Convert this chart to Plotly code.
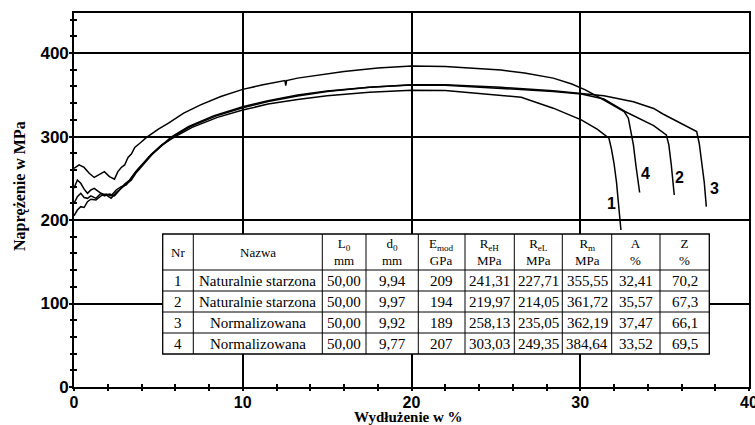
import plotly.graph_objects as go

# --- table data -------------------------------------------------------------
nr = [1, 2, 3, 4]
nazwa = ["Naturalnie starzona", "Naturalnie starzona", "Normalizowana", "Normalizowana"]
L0_mm = [50.00, 50.00, 50.00, 50.00]
d0_mm = [9.94, 9.97, 9.92, 9.77]
E_mod_gpa = [209, 194, 189, 207]
ReH_mpa = [241.31, 219.97, 258.13, 303.03]
ReL_mpa = [227.71, 214.05, 235.05, 249.35]
Rm_mpa = [355.55, 361.72, 362.19, 384.64]
A_pct = [32.41, 35.57, 37.47, 33.52]
Z_pct = [70.2, 67.3, 66.1, 69.5]

header = ["Nr", "Nazwa", "L<sub>0</sub><br>mm", "d<sub>0</sub><br>mm",
          "E<sub>mod</sub><br>GPa", "R<sub>eH</sub><br>MPa", "R<sub>eL</sub><br>MPa",
          "R<sub>m</sub><br>MPa", "A<br>%", "Z<br>%"]

# --- stress-strain curves (elongation %, stress MPa) ------------------------
x1 = [0, 0.2, 0.4, 0.6, 0.8, 1.0, 1.3, 1.6, 1.9, 2.2, 2.5, 2.8, 3.1, 3.4, 3.7, 4.1,
      4.6, 5.2, 6.0, 7.0, 8.5, 10, 11.5, 13.25, 15, 17.5, 20, 22, 24, 25.3, 26.5,
      28.4, 30.06, 31.0, 31.7, 31.85, 32.0, 32.15, 32.3, 32.41]
y1 = [205, 212, 216, 215, 222, 225, 224, 229, 231, 229, 236, 240, 242, 250, 259, 268,
      279, 290, 300, 311, 323, 331.7, 339, 344.5, 349, 353, 355.55, 355.3, 352, 349.7, 347,
      334, 320, 309, 298, 285, 268, 245, 215, 188]

x2 = [0, 0.2, 0.4, 0.6, 0.8, 1.0, 1.2, 1.5, 1.8, 2.1, 2.4, 2.7, 3.0, 3.3, 3.6, 4.0,
      4.5, 5.1, 5.8, 6.8, 8.3, 10, 11.5, 13.25, 15, 17.5, 20, 22, 25.3, 28.4, 30.06,
      31.4, 32.65, 33.5, 34.35, 35.1, 35.25, 35.4, 35.57]
y2 = [238, 248, 244, 237, 232, 236, 238, 233, 229, 231, 229, 236, 243, 248, 256, 265,
      277, 288, 300, 312, 325, 335.7, 343, 349.7, 354.5, 359, 361.72, 361.5, 358, 354, 351,
      345, 330, 322, 313, 302, 290, 265, 230]

x3 = [0, 0.2, 0.4, 0.6, 0.8, 1.0, 1.3, 1.6, 1.9, 2.2, 2.5, 2.8, 3.1, 3.4, 3.7, 4.1,
      4.6, 5.2, 5.9, 6.9, 8.4, 10, 11.5, 13.25, 15, 17.5, 20, 22, 25.3, 28.4, 30.06,
      31.4, 33.15, 34.35, 34.9, 35.9, 36.9, 37.05, 37.2, 37.35, 37.47]
y3 = [220, 228, 232, 227, 226, 229, 226, 232, 230, 226, 233, 238, 244, 248, 257, 266,
      278, 289, 300, 312, 324.5, 334.5, 342, 348.5, 354, 359, 362, 362.19, 359, 355, 352,
      349, 341.7, 333.7, 327, 317, 306, 292, 270, 245, 216]

x4 = [0, 0.3, 0.6, 0.9, 1.2, 1.5, 1.8, 2.1, 2.4, 2.6, 2.8, 3.0, 3.2, 3.4, 3.6, 3.9,
      4.3, 5.0, 5.6, 6.5, 7.5, 8.7, 10, 11.2, 12.5, 12.55, 12.6, 13.25, 14.5, 16, 18,
      20, 22, 23.5, 25.3, 26.7, 28.4, 29.5, 30.3, 31.3, 32.0, 32.6, 32.85, 33.0, 33.15,
      33.3, 33.45, 33.52]
y4 = [262, 266, 263, 256, 251, 254, 258, 252, 249, 258, 263, 266, 275, 279, 287, 292,
      299, 309, 316, 328, 338, 348, 356.5, 362, 367, 361, 367, 370, 374, 378, 382,
      384.64, 384, 382, 379.6, 376, 370, 363, 356, 345, 337, 330, 322, 308, 290,
      265, 245, 233]

curves = [(x1, y1), (x2, y2), (x3, y3), (x4, y4)]

# curve number labels placed beside the fracture ends
label_text = ["1", "4", "2", "3"]
label_x = [31.85, 33.85, 35.9, 37.95]
label_y = [220, 256, 251, 238]

x_ticks = [0, 10, 20, 30, 40]
y_ticks = [0, 100, 200, 300, 400]


def pl(v, nd):
    return f"{v:.{nd}f}".replace(".", ",")


rows = [
    [str(nr[i]), nazwa[i], pl(L0_mm[i], 2), pl(d0_mm[i], 2), str(E_mod_gpa[i]),
     pl(ReH_mpa[i], 2), pl(ReL_mpa[i], 2), pl(Rm_mpa[i], 2), pl(A_pct[i], 2),
     pl(Z_pct[i], 1)]
    for i in range(len(nr))
]

# page geometry (pixels)
W, H = 755, 425
L, R, T, B = 74, 6, 13, 38
pw, ph = W - L - R, H - T - B


def px_x(p):
    return (p - L) / pw


def px_y(p):
    return (H - B - p) / ph


fig = go.Figure()

for xs, ys in curves:
    fig.add_trace(go.Scatter(x=xs, y=ys, mode="lines",
                             line=dict(color="black", width=1.5),
                             showlegend=False, hoverinfo="skip"))

# companion axes carry the outward half of the crossing ticks
fig.add_trace(go.Scatter(x=[0], y=[0], xaxis="x2", yaxis="y2", mode="markers",
                         marker=dict(opacity=0), showlegend=False, hoverinfo="skip"))

# --- inset table drawn with shapes + annotations -----------------------------
col_edges = [162.7, 193.3, 322.3, 366, 418.3, 465, 514.3, 562.3, 611.7, 660, 709.3]
row_edges = [234, 270, 291, 312, 333, 354]

fig.add_shape(type="rect", xref="paper", yref="paper", layer="above",
              x0=px_x(col_edges[0]), x1=px_x(col_edges[-1]),
              y0=px_y(row_edges[-1]), y1=px_y(row_edges[0]),
              fillcolor="white", line=dict(color="black", width=1.3))
for cx in col_edges[1:-1]:
    fig.add_shape(type="line", xref="paper", yref="paper", layer="above",
                  x0=px_x(cx), x1=px_x(cx), y0=px_y(row_edges[-1]), y1=px_y(row_edges[0]),
                  line=dict(color="black", width=1))
for ry in row_edges[1:-1]:
    fig.add_shape(type="line", xref="paper", yref="paper", layer="above",
                  x0=px_x(col_edges[0]), x1=px_x(col_edges[-1]), y0=px_y(ry), y1=px_y(ry),
                  line=dict(color="black", width=1))

centers_x = [(a + b) / 2 for a, b in zip(col_edges[:-1], col_edges[1:])]
centers_y = [(a + b) / 2 for a, b in zip(row_edges[:-1], row_edges[1:])]

for j, h in enumerate(header):
    fig.add_annotation(xref="paper", yref="paper", x=px_x(centers_x[j]),
                       y=px_y(centers_y[0]), text=h, showarrow=False,
                       xanchor="center", yanchor="middle",
                       font=dict(family="Liberation Serif", size=13, color="black"))
for i, row in enumerate(rows):
    for j, val in enumerate(row):
        fig.add_annotation(xref="paper", yref="paper", x=px_x(centers_x[j]),
                           y=px_y(centers_y[i + 1]), text=val, showarrow=False,
                           xanchor="center", yanchor="middle",
                           font=dict(family="Liberation Serif", size=15, color="black"))

for t, xv, yv in zip(label_text, label_x, label_y):
    fig.add_annotation(x=xv, y=yv, text=t, showarrow=False,
                       font=dict(family="Liberation Sans", size=16, color="black",
                                 weight="bold"))

xtickfont = dict(family="Liberation Sans", size=16, color="black", weight="bold")
ytickfont = dict(family="Liberation Sans", size=17, color="black", weight="bold")
common = dict(showline=True, linecolor="black", linewidth=1.6, zeroline=False,
              automargin=False)

fig.update_layout(
    width=W, height=H,
    margin=dict(l=L, r=R, t=T, b=B, autoexpand=False),
    paper_bgcolor="white", plot_bgcolor="white",
    xaxis=dict(range=[0, 40], tickvals=x_ticks, ticktext=[str(v) for v in x_ticks],
               ticks="inside", ticklen=4, tickwidth=1.5, tickcolor="black",
               minor=dict(dtick=2, ticks="inside", ticklen=3, tickwidth=1.5,
                          tickcolor="black", showgrid=False),
               showgrid=True, gridcolor="black", gridwidth=1.6,
               ticklabeloverflow="allow",
               mirror=True, tickfont=xtickfont, **common),
    yaxis=dict(range=[0, 448], tickvals=y_ticks, ticktext=[str(v) for v in y_ticks],
               ticks="inside", ticklen=4, tickwidth=1.5, tickcolor="black",
               minor=dict(dtick=20, ticks="inside", ticklen=3, tickwidth=1.5,
                          tickcolor="black", showgrid=False),
               showgrid=True, gridcolor="black", gridwidth=1.6,
               mirror=True, tickfont=ytickfont, **common),
    xaxis2=dict(range=[0, 40], overlaying="x", anchor="y2", side="bottom",
                tickvals=x_ticks, ticks="outside", ticklen=3, tickwidth=1.5,
                tickcolor="black", showticklabels=False, showgrid=False,
                minor=dict(dtick=2, ticks="outside", ticklen=3, tickwidth=1.5,
                           tickcolor="black"),
                showline=False, zeroline=False, automargin=False),
    yaxis2=dict(range=[0, 448], overlaying="y", anchor="x2", side="left",
                tickvals=y_ticks, ticks="outside", ticklen=4, tickwidth=1.5,
                tickcolor="black", showticklabels=False, showgrid=False,
                minor=dict(dtick=20, ticks="outside", ticklen=3, tickwidth=1.5,
                           tickcolor="black"),
                showline=False, zeroline=False, automargin=False),
    showlegend=False,
)

fig.add_annotation(text="<b>Wydłużenie w %</b>", xref="paper", yref="paper",
                   x=px_x(408), y=0, yshift=-30, xanchor="center", yanchor="middle",
                   showarrow=False,
                   font=dict(family="Liberation Serif", size=15, color="black"))
fig.add_annotation(text="<b>Naprężenie w MPa</b>", xref="paper", yref="paper",
                   x=0, xshift=20 - L, y=px_y(186), xanchor="center", yanchor="middle",
                   textangle=-90, showarrow=False,
                   font=dict(family="Liberation Serif", size=16, color="black"))

fig.write_html("out.html")
